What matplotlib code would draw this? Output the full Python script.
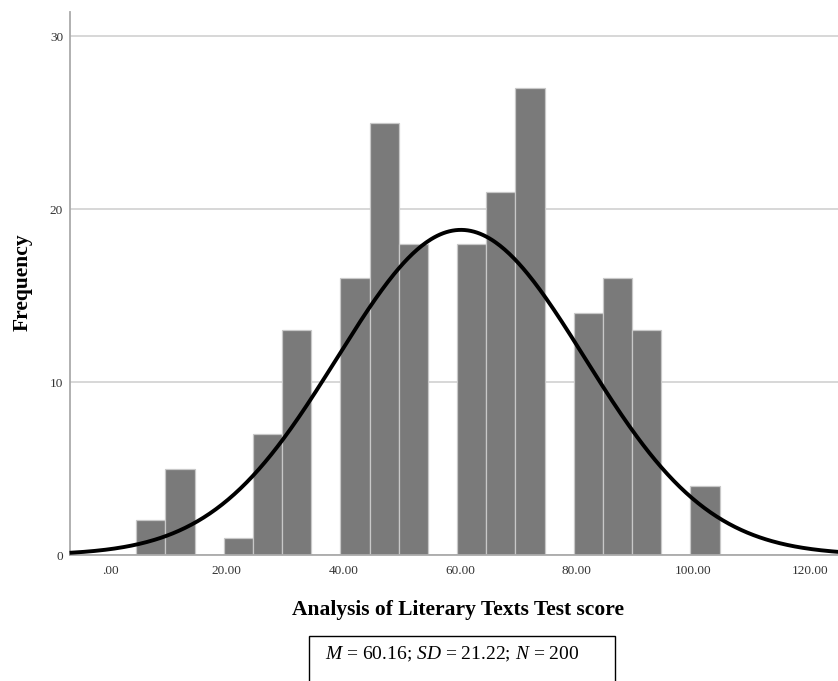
import numpy as np
import matplotlib
matplotlib.use("Agg")
import matplotlib.pyplot as plt
from matplotlib.patches import Rectangle

plt.rcParams['font.family'] = ['Liberation Serif', 'DejaVu Serif']
plt.rcParams['mathtext.fontset'] = 'custom'
plt.rcParams['mathtext.rm'] = 'Liberation Serif'
plt.rcParams['mathtext.it'] = 'Liberation Serif:italic'

# Data
bin_centers = [7, 12, 17, 22, 27, 32, 37, 42, 47, 52, 57, 62, 67, 72, 77, 82, 87, 92, 97, 102]
counts = [2, 5, 0, 1, 7, 13, 0, 16, 25, 18, 0, 18, 21, 27, 0, 14, 16, 13, 0, 4]
bin_width = 5
mean, sd, n = 60.16, 21.22, 200
x_ticks = [0, 20, 40, 60, 80, 100, 120]
x_tick_labels = ['.00', '20.00', '40.00', '60.00', '80.00', '100.00', '120.00']
y_ticks = [0, 10, 20, 30]

W, H = 838, 681
fig = plt.figure(figsize=(W / 100, H / 100), dpi=100)
ax = fig.add_axes([70 / W, (H - 555) / H, (W - 70) / W, (555 - 12) / H])

ax.set_xlim(-6.86, 124.8)
ax.set_ylim(0, 31.4)

ax.set_yticks(y_ticks)
ax.yaxis.grid(True, color='#d4d4d4', linewidth=1.3)
ax.set_axisbelow(True)

ax.bar(bin_centers, counts, width=bin_width, color='#7a7a7a',
       edgecolor='#c8c8c8', linewidth=0.9, zorder=2)

xs = np.linspace(-6.6, 124.8, 500)
ys = n * bin_width / (sd * np.sqrt(2 * np.pi)) * np.exp(-0.5 * ((xs - mean) / sd) ** 2)
ax.plot(xs, ys, color='black', linewidth=2.8, zorder=3, clip_on=False)

ax.set_xticks(x_ticks)
ax.set_xticklabels(x_tick_labels)
ax.tick_params(axis='both', length=0, labelsize=9.5, colors='#333333')
ax.tick_params(axis='x', pad=7)
ax.tick_params(axis='y', pad=5)

for s in ['top', 'right']:
    ax.spines[s].set_visible(False)
for s in ['left', 'bottom']:
    ax.spines[s].set_color('#aaaaaa')
    ax.spines[s].set_linewidth(1.3)

ax.set_ylabel('Frequency', fontsize=15.5, fontweight='bold')
ax.yaxis.set_label_coords((33 - 70) / (W - 70), (555 - 282) / (555 - 12))
fig.text(458 / W, 1 - 610 / H, 'Analysis of Literary Texts Test score',
         ha='center', va='center', fontsize=15.5, fontweight='bold')

rect = Rectangle((309 / W, -0.05), (615 - 309) / W, (H - 636) / H + 0.05,
                 transform=fig.transFigure, fill=False, edgecolor='black',
                 linewidth=1.0)
fig.patches.append(rect)
fig.text(452 / W, 1 - 654 / H, r'$M$ = 60.16; $SD$ = 21.22; $N$ = 200',
         ha='center', va='center', fontsize=14)

fig.savefig('out.png', dpi=100)
